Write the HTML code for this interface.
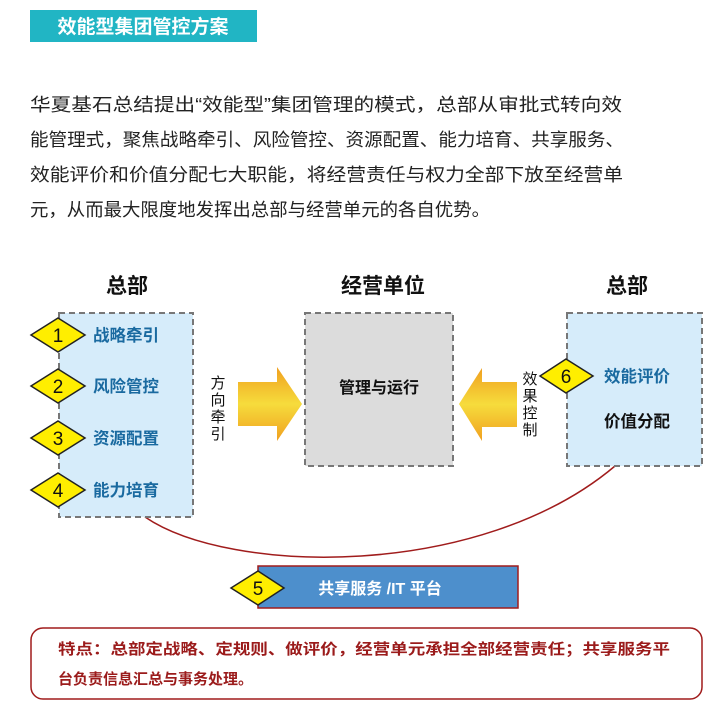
<!DOCTYPE html>
<html><head><meta charset="utf-8"><style>
body{margin:0;background:#fff;}
svg text{font-family:"Liberation Sans","Noto Sans CJK SC",sans-serif;}
</style></head><body>
<svg width="718" height="716" viewBox="0 0 718 716" xmlns="http://www.w3.org/2000/svg">
<defs>
<linearGradient id="g" x1="0" y1="0" x2="0" y2="1">
<stop offset="0" stop-color="#f0a020"/><stop offset="0.5" stop-color="#f6dc3c"/><stop offset="1" stop-color="#f0a020"/>
</linearGradient>
</defs>
<rect x="30" y="10" width="227" height="32" fill="#21b5c4"/>
<text x="143" y="33" font-size="19" font-weight="bold" fill="#fff" text-anchor="middle">效能型集团管控方案</text>

<g font-size="18" fill="#222">
<text x="30" y="111" textLength="592" lengthAdjust="spacingAndGlyphs">华夏基石总结提出“效能型”集团管理的模式，总部从审批式转向效</text>
<text x="30" y="146" textLength="594" lengthAdjust="spacingAndGlyphs">能管理式，聚焦战略牵引、风险管控、资源配置、能力培育、共享服务、</text>
<text x="30" y="181" textLength="593" lengthAdjust="spacingAndGlyphs">效能评价和价值分配七大职能，将经营责任与权力全部下放至经营单</text>
<text x="30" y="216" textLength="460" lengthAdjust="spacingAndGlyphs">元，从而最大限度地发挥出总部与经营单元的各自优势。</text>
</g>

<g font-size="21" font-weight="bold" fill="#111" text-anchor="middle">
<text x="127" y="293">总部</text>
<text x="383" y="293">经营单位</text>
<text x="627" y="293">总部</text>
</g>

<path d="M145,517 C230,575 480,580 615,466" fill="none" stroke="#a01c1c" stroke-width="1.5"/>

<rect x="59" y="313" width="134" height="204" fill="#d6ecfa" stroke="#777" stroke-width="2" stroke-dasharray="6,4"/>
<rect x="305" y="313" width="148" height="153" fill="#dcdcdc" stroke="#777" stroke-width="2" stroke-dasharray="6,4"/>
<rect x="567" y="313" width="135" height="153" fill="#d6ecfa" stroke="#777" stroke-width="2" stroke-dasharray="6,4"/>

<g stroke="#222" stroke-width="1.5" fill="#ffee00">
<path d="M31,335 L58,318 L85,335 L58,352 Z"/>
<path d="M31,386 L58,369 L85,386 L58,403 Z"/>
<path d="M31,438 L58,421 L85,438 L58,455 Z"/>
<path d="M31,490 L58,473 L85,490 L58,507 Z"/>
<path d="M540,376 L566,359 L593,376 L566,393 Z"/>
</g>
<g font-size="19" fill="#111" text-anchor="middle">
<text x="58" y="342">1</text><text x="58" y="393">2</text><text x="58" y="445">3</text><text x="58" y="497">4</text><text x="566" y="383">6</text>
</g>
<g font-size="16.5" font-weight="bold" fill="#1a6aa0">
<text x="93" y="341">战略牵引</text><text x="93" y="392">风险管控</text><text x="93" y="444">资源配置</text><text x="93" y="496">能力培育</text>
<text x="604" y="382">效能评价</text>
</g>
<text x="604" y="427" font-size="16.5" font-weight="bold" fill="#111">价值分配</text>
<text x="379" y="393" font-size="16" font-weight="bold" fill="#111" text-anchor="middle">管理与运行</text>

<path d="M238,382 L277,382 L277,367 L302,404 L277,441 L277,426 L238,426 Z" fill="url(#g)"/>
<path d="M517,382 L482,382 L482,368 L459,404 L482,441 L482,427 L517,427 Z" fill="url(#g)"/>
<g font-size="15" fill="#111" text-anchor="middle">
<text x="218" y="388">方</text><text x="218" y="405">向</text><text x="218" y="422">牵</text><text x="218" y="439">引</text>
<text x="530" y="384">效</text><text x="530" y="401">果</text><text x="530" y="418">控</text><text x="530" y="435">制</text>
</g>

<rect x="258" y="566" width="260" height="42" fill="#4d8fcc" stroke="#a01c1c" stroke-width="1.5"/>
<path d="M231,588 L258,571 L284,588 L258,605 Z" fill="#ffee00" stroke="#222" stroke-width="1.5"/>
<text x="258" y="595" font-size="19" fill="#111" text-anchor="middle">5</text>
<text x="380" y="594" font-size="16" font-weight="bold" fill="#fff" text-anchor="middle">共享服务 /IT 平台</text>

<rect x="31" y="628" width="671" height="71" rx="12" fill="#fff" stroke="#a01c1c" stroke-width="1.5"/>
<g font-size="15" font-weight="bold" fill="#9b1b1b">
<text x="58" y="654" textLength="612" lengthAdjust="spacingAndGlyphs">特点：总部定战略、定规则、做评价，经营单元承担全部经营责任；共享服务平</text>
<text x="58" y="684">台负责信息汇总与事务处理。</text>
</g>
</svg>
</body></html>
